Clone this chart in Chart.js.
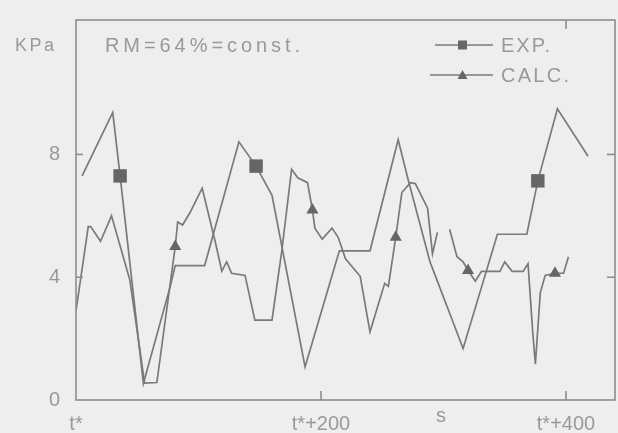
<!DOCTYPE html>
<html><head><meta charset="utf-8">
<script src="https://cdn.jsdelivr.net/npm/chart.js@4/dist/chart.umd.min.js"></script>
<style>html,body{margin:0;padding:0;background:#eeeeee;}canvas{display:block;}</style>
</head><body>
<canvas id="c" width="618" height="433"></canvas>
<script>
// ---- data (time in s after t*, pressure in kPa) ----
const expTime = [5, 30, 36, 55, 77, 81, 105, 133, 147, 160, 187, 215, 240, 263, 271, 289, 316, 344, 368, 377, 393, 418];
const expKPa  = [7.3, 9.37, 7.3, 0.54, 3.71, 4.38, 4.38, 8.41, 7.62, 6.67, 1.08, 4.86, 4.86, 8.48, 7.2, 4.5, 1.68, 5.4, 5.4, 7.14, 9.49, 7.94];
const expMarkerIdx = [2, 8, 19];

const calcTime = [0, 10, 12, 20, 29, 44, 56, 66, 81, 83, 87, 93, 103, 114, 119, 123, 127, 138, 146, 160, 168, 176, 181, 189, 193, 195, 201, 209, 214, 220, 232, 240, 252, 255, 261, 266, 273, 277, 287, 291, 295, 300, 305, 311, 316, 320, 326, 331, 346, 350, 356, 365, 369, 373, 375, 379, 383, 391, 398, 402];
const calcKPa  = [2.9, 5.65, 5.65, 5.17, 6.0, 3.9, 0.55, 0.57, 5.0, 5.8, 5.7, 6.1, 6.9, 5.1, 4.2, 4.5, 4.13, 4.06, 2.6, 2.6, 4.86, 7.52, 7.24, 7.08, 6.19, 5.6, 5.24, 5.6, 5.3, 4.6, 4.03, 2.22, 3.8, 3.7, 5.3, 6.76, 7.08, 7.05, 6.25, 4.76, 5.46, null, 5.56, 4.67, 4.5, 4.22, 3.87, 4.19, 4.19, 4.5, 4.19, 4.19, 4.44, 2.13, 1.17, 3.49, 4.06, 4.13, 4.13, 4.67];
const calcMarkerIdx = [8, 24, 34, 45, 57];

const yTickVals = [0, 4, 8];
const yTickLabels = ['0', '4', '8'];
const xTickVals = [0, 200, 400];
const xTickLabels = ['t*', 't*+200', 't*+400'];
const seriesNames = ['EXP.', 'CALC.'];
const yUnit = 'KPa';
const xUnit = 's';
const note = 'RM=64%=const.';

const LINE = '#7a7a7a', MARK = '#666666', TEXT = '#999999', FRAME = '#8e8e8e';
const FONT = '"Liberation Sans", Arial, sans-serif';

function spacedText(ctx, text, x, y, targetW) {
  ctx.letterSpacing = '0px';
  const w = ctx.measureText(text).width;
  const sp = Math.max(0, (targetW - w) / (text.length - 1));
  ctx.letterSpacing = sp + 'px';
  ctx.fillText(text, x, y);
  ctx.letterSpacing = '0px';
}

const deco = {
  id: 'deco',
  beforeDraw(chart) {
    const c = chart.ctx;
    c.save(); c.fillStyle = '#eeeeee'; c.fillRect(0, 0, chart.width, chart.height); c.restore();
  },
  afterDraw(chart) {
    const c = chart.ctx, a = chart.chartArea, x = chart.scales.x, y = chart.scales.y;
    c.save();
    c.strokeStyle = FRAME; c.lineWidth = 1.6;
    c.strokeRect(a.left, a.top, a.right - a.left, a.bottom - a.top);
    const seg = (x1, y1, x2, y2) => { c.beginPath(); c.moveTo(x1, y1); c.lineTo(x2, y2); c.stroke(); };
    yTickVals.forEach(v => { if (v === 0) return; const p = y.getPixelForValue(v); seg(a.left, p, a.left + 7, p); seg(a.right - 8, p, a.right, p); });
    xTickVals.forEach(v => { if (v === 0) return; const p = x.getPixelForValue(v); seg(p, a.bottom, p, a.bottom - 9); });
    const pt = x.getPixelForValue(xTickVals[2]); seg(pt, a.top, pt, a.top + 9);

    c.fillStyle = TEXT; c.textBaseline = 'middle'; c.textAlign = 'left';
    c.font = '18px ' + FONT;
    spacedText(c, yUnit, 15, 46, 39);
    c.font = '20px ' + FONT;
    spacedText(c, note, 105, 46, 195);
    c.font = '20px ' + FONT;
    c.textAlign = 'center';
    c.fillText(xUnit, 441, 416);
    c.textAlign = 'left';

    // legend
    const ds = chart.data.datasets;
    const rows = [{y: 45, x1: 435}, {y: 75, x1: 430}];
    rows.forEach((r, i) => {
      c.strokeStyle = LINE; c.lineWidth = 1.5;
      seg(r.x1, r.y, 493, r.y);
      c.fillStyle = MARK;
      if (ds[i].pointStyle === 'rect') { c.fillRect(458, r.y - 4.5, 9, 9); }
      else { c.beginPath(); c.moveTo(462.5, r.y - 5); c.lineTo(467.5, r.y + 4); c.lineTo(457.5, r.y + 4); c.closePath(); c.fill(); }
      c.fillStyle = TEXT; c.font = '20px ' + FONT;
      spacedText(c, ds[i].label, 501, r.y + 1, i === 0 ? 49 : 68);
    });
    c.restore();
  }
};

new Chart(document.getElementById('c'), {
  type: 'line',
  data: {
    datasets: [
      { label: seriesNames[0], data: expTime.map((t, i) => ({x: t, y: expKPa[i]})),
        borderColor: LINE, borderWidth: 1.7, tension: 0, pointStyle: 'rect',
        pointRadius: ctx => expMarkerIdx.includes(ctx.dataIndex) ? 9.5 : 0,
        pointBackgroundColor: MARK, pointBorderColor: MARK, pointBorderWidth: 0 },
      { label: seriesNames[1], data: calcTime.map((t, i) => ({x: t, y: calcKPa[i]})),
        borderColor: LINE, borderWidth: 1.7, tension: 0, spanGaps: false, pointStyle: 'triangle',
        pointRadius: ctx => calcMarkerIdx.includes(ctx.dataIndex) ? 7 : 0,
        pointBackgroundColor: MARK, pointBorderColor: MARK, pointBorderWidth: 0 }
    ]
  },
  options: {
    responsive: false, animation: false, events: [],
    layout: { padding: { left: 0, right: 3, top: 10, bottom: 0 } },
    plugins: { legend: { display: false }, tooltip: { enabled: false } },
    scales: {
      x: { type: 'linear', min: 0, max: 440,
        afterBuildTicks: s => { s.ticks = xTickVals.map(v => ({value: v})); },
        afterFit: s => { s.height = 33; },
        grid: { display: false }, border: { display: false },
        ticks: { color: TEXT, font: { size: 20, family: FONT }, padding: 4, maxRotation: 0,
          callback: (v) => xTickLabels[xTickVals.indexOf(v)] } },
      y: { type: 'linear', min: 0, max: 12.38,
        afterBuildTicks: s => { s.ticks = yTickVals.map(v => ({value: v})); },
        afterFit: s => { s.width = 76; },
        grid: { display: false }, border: { display: false },
        ticks: { color: TEXT, font: { size: 20, family: FONT }, padding: 8,
          callback: (v) => yTickLabels[yTickVals.indexOf(v)] } }
    }
  },
  plugins: [deco]
});
</script>
</body></html>
